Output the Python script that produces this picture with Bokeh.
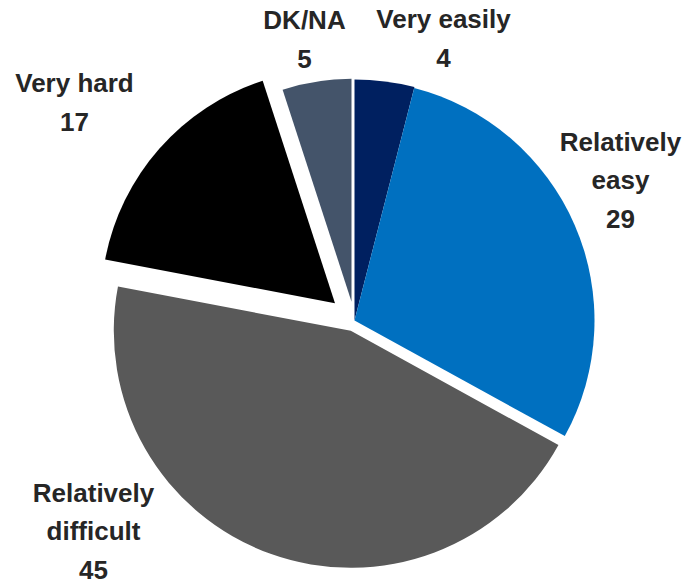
import math
from bokeh.plotting import figure
from bokeh.models import ColumnDataSource, Range1d
from bokeh.core.properties import value
from bokeh.embed import file_html
from bokeh.resources import INLINE

# ---- data ----
categories = ["Very easily", "Relatively easy", "Relatively difficult", "Very hard", "DK/NA"]
label_names = ["Very easily", "Relatively\neasy", "Relatively\ndifficult", "Very hard", "DK/NA"]
values = [4, 29, 45, 17, 5]

# ---- styles / layout ----
colors = ["#002060", "#0070C0", "#595959", "#000000", "#44546A"]
explode = [0, 0, 11, 26, 19]          # px offset along slice bisector
radii = [241, 240, 237, 234, 223]     # px
W, H = 684, 584
cx, cy = 354, 264                     # pie centre (plot px, y up)
# label block centres (plot px, y up)
label_x = [443, 620, 93, 74, 304]
label_y = [546, 404, 53, 482, 545]

total = float(sum(values))
xs, ys, starts, ends = [], [], [], []
cum = 0.0
for v, ex in zip(values, explode):
    a0 = cum / total
    a1 = (cum + v) / total
    cum += v
    mid = math.pi / 2 - 2 * math.pi * (a0 + a1) / 2
    xs.append(cx + ex * math.cos(mid))
    ys.append(cy + ex * math.sin(mid))
    starts.append(math.pi / 2 - 2 * math.pi * a1)
    ends.append(math.pi / 2 - 2 * math.pi * a0)

src = ColumnDataSource(dict(x=xs, y=ys, r=radii, start=starts, end=ends, color=colors))

p = figure(width=W, height=H, output_backend="svg", toolbar_location=None,
           x_range=Range1d(0, W), y_range=Range1d(0, H), min_border=0)
p.axis.visible = False
p.grid.visible = False
p.outline_line_color = None
p.background_fill_color = "white"
p.border_fill_color = "white"

p.wedge(x="x", y="y", radius="r", start_angle="start", end_angle="end",
        fill_color="color", line_color=None, source=src)

texts = [f"{n}\n{v}" for n, v in zip(label_names, values)]
lsrc = ColumnDataSource(dict(x=label_x, y=label_y, t=texts))
p.text(x="x", y="y", text="t", source=lsrc, text_align="center", text_baseline="middle",
       text_font=value("Liberation Sans"), text_font_style="bold",
       text_font_size="26px", text_color="#262626", text_line_height=1.27)

open("out.html", "w").write(file_html(p, INLINE))
